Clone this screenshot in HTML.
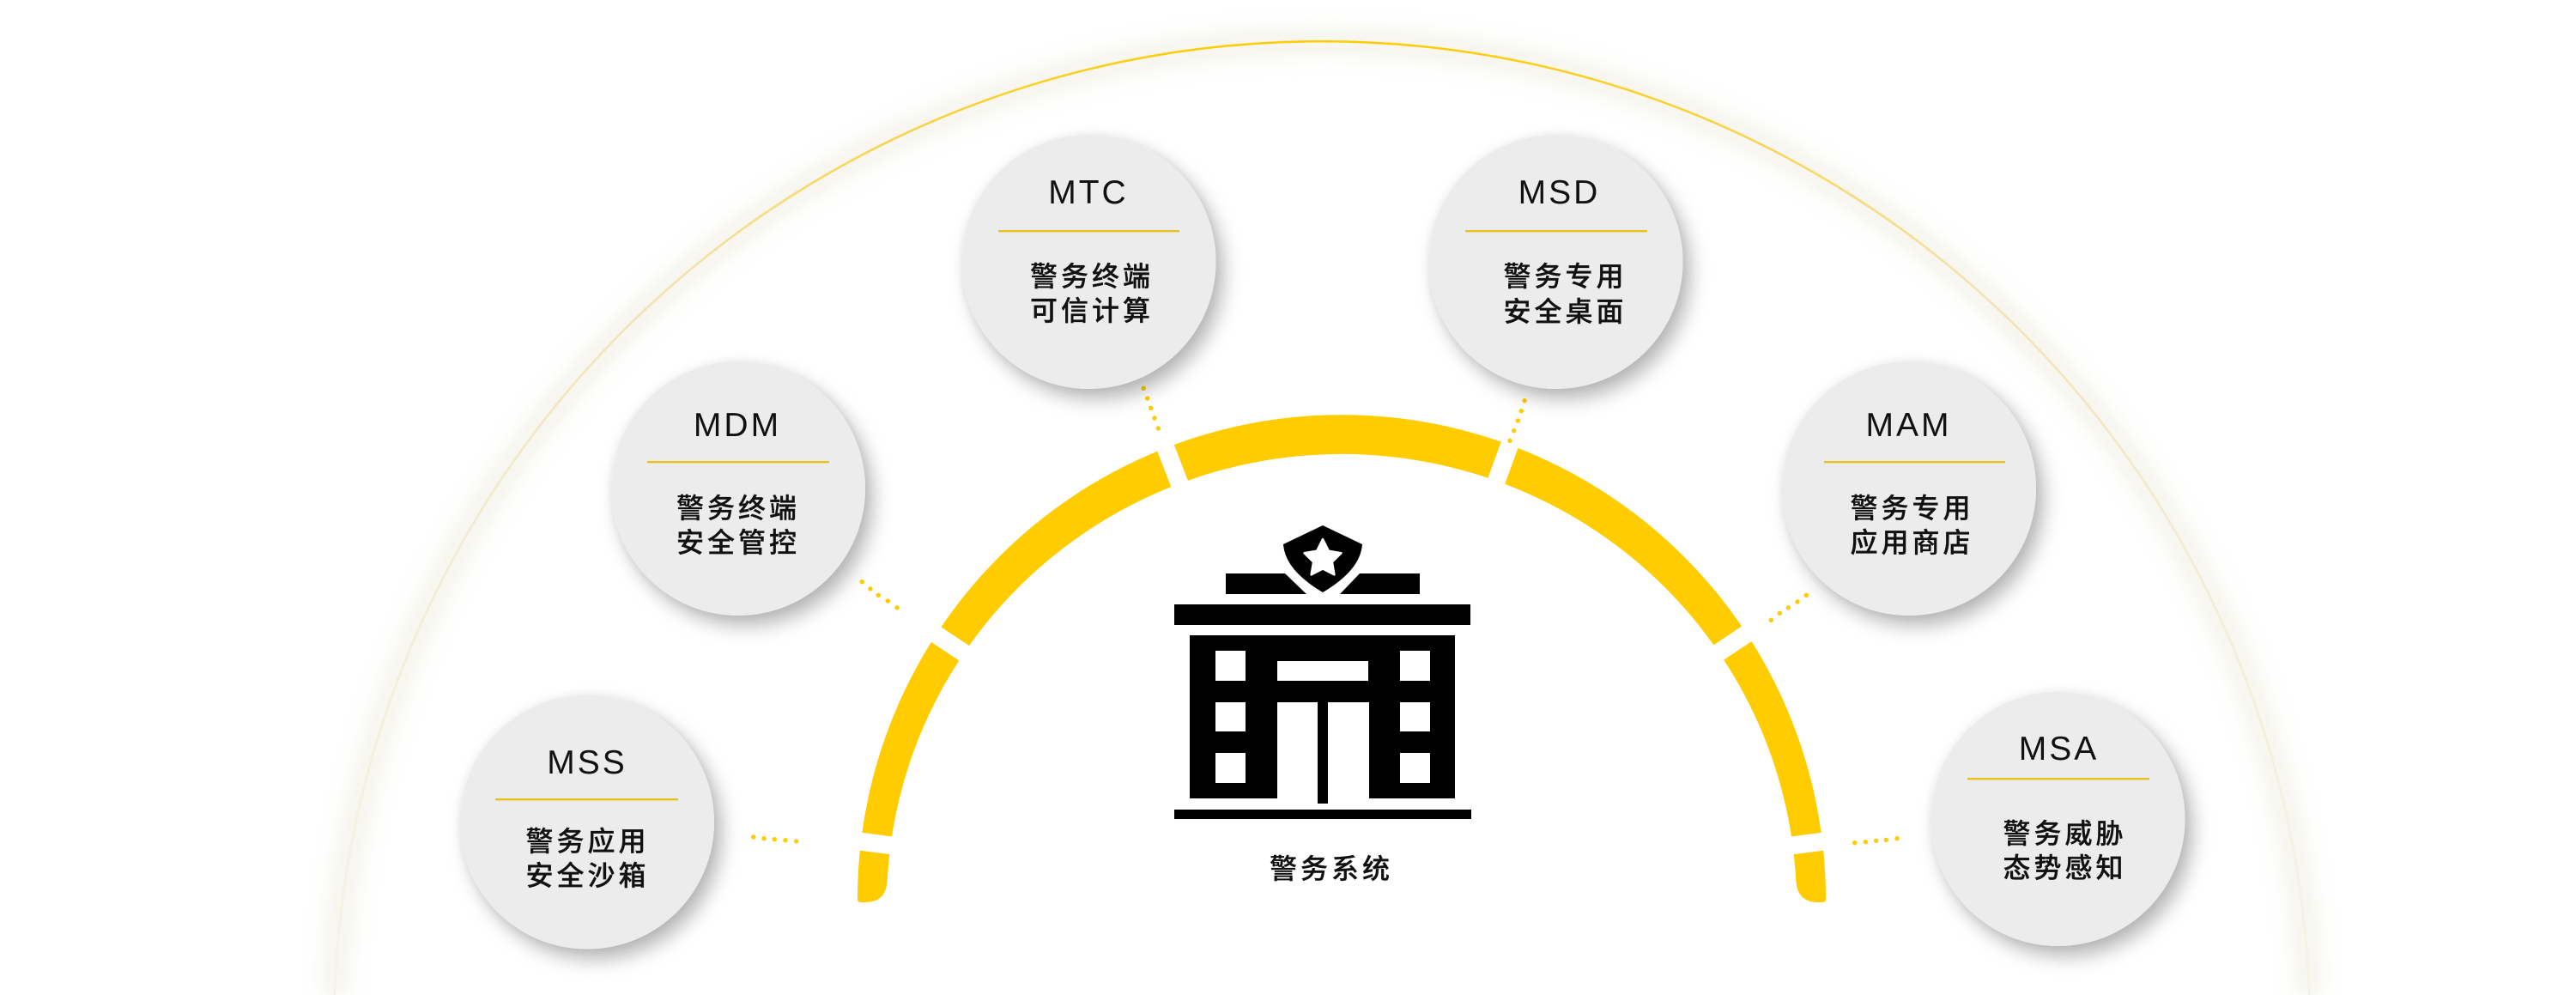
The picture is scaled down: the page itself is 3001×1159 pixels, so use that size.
<!DOCTYPE html>
<html>
<head>
<meta charset="utf-8">
<style>
  html,body{margin:0;padding:0;background:#fff;width:3001px;height:1159px;overflow:hidden;}
  svg{display:block;}
  .lb{font-family:"Liberation Sans",sans-serif;font-size:39px;letter-spacing:3px;fill:#111;text-anchor:middle;}
  .cn{font-family:"Liberation Sans","Noto Sans CJK SC",sans-serif;font-size:32px;letter-spacing:4px;fill:#111;stroke:#111;stroke-width:0.3;text-anchor:middle;font-weight:500;}
</style>
</head>
<body>
<svg width="3001" height="1159" viewBox="0 0 3001 1159" xmlns="http://www.w3.org/2000/svg">
  <defs>
    <filter id="glow" x="-20%" y="-20%" width="140%" height="140%">
      <feGaussianBlur stdDeviation="10"/>
    </filter>
    <filter id="sh" x="-30%" y="-30%" width="160%" height="160%">
      <feDropShadow dx="0" dy="0" stdDeviation="6" flood-color="#000" flood-opacity="0.06"/>
      <feDropShadow dx="9" dy="12" stdDeviation="11" flood-color="#000" flood-opacity="0.28"/>
    </filter>
    <linearGradient id="bg" gradientUnits="userSpaceOnUse" x1="0" y1="49" x2="0" y2="1159">
      <stop offset="0" stop-color="#FFCC00"/>
      <stop offset="0.08" stop-color="#FAD23C"/>
      <stop offset="0.25" stop-color="#F1E3AE"/>
      <stop offset="0.6" stop-color="#F2EDDC"/>
      <stop offset="1" stop-color="#F5F2E8"/>
    </linearGradient>
    <clipPath id="frame"><rect x="0" y="0" width="3001" height="1159"/></clipPath>
  </defs>

  <!-- big faint arc -->
  <g clip-path="url(#frame)">
    <path d="M 389.7,1159 A 1151 1151 0 0 1 2690.3,1159" fill="none" stroke="#E6E1CF" stroke-opacity="0.35" stroke-width="36" filter="url(#glow)"/>
    <path d="M 389.7,1159 A 1151 1151 0 0 1 2690.3,1159" fill="none" stroke="url(#bg)" stroke-width="2.5"/>
  </g>

  <!-- yellow segmented arc -->
  <path d="M 999,1047 A 564 564 0 0 1 2127,1047 Q 2127,1051 2123,1051 L 2118,1051 Q 2094,1051 2092.3,1026 A 530 524 0 0 0 1033.7,1026 Q 1032,1051 1008,1051 L 1003,1051 Q 999,1051 999,1047 Z" fill="#FFCC00"/>
  <g transform="translate(1563 1053)" stroke="#fff" stroke-width="21">
    <line x1="-585" y1="0" x2="-495" y2="0" transform="rotate(7.4)"/>
    <line x1="-585" y1="0" x2="-495" y2="0" transform="rotate(33.6)"/>
    <line x1="-585" y1="0" x2="-495" y2="0" transform="rotate(68.9)"/>
    <line x1="-585" y1="0" x2="-495" y2="0" transform="rotate(110.1)"/>
    <line x1="-585" y1="0" x2="-495" y2="0" transform="rotate(146.3)"/>
    <line x1="-585" y1="0" x2="-495" y2="0" transform="rotate(172.6)"/>
  </g>

  <!-- dots -->
  <g fill="#FFCC00">
    <circle cx="1332.3" cy="452.3" r="2.7"/><circle cx="1336.7" cy="464" r="2.7"/><circle cx="1340.7" cy="475.3" r="2.7"/><circle cx="1345" cy="487" r="2.7"/><circle cx="1349.3" cy="499" r="2.7"/>
    <circle cx="1776" cy="466.7" r="2.7"/><circle cx="1772.3" cy="478.7" r="2.7"/><circle cx="1768.3" cy="490" r="2.7"/><circle cx="1763.7" cy="501.7" r="2.7"/><circle cx="1759" cy="513.3" r="2.7"/>
    <circle cx="1004.3" cy="677.7" r="2.7"/><circle cx="1014" cy="686" r="2.7"/><circle cx="1023.3" cy="693.3" r="2.7"/><circle cx="1034.3" cy="700" r="2.7"/><circle cx="1045" cy="707.7" r="2.7"/>
    <circle cx="2104.3" cy="693.3" r="2.7"/><circle cx="2094" cy="701" r="2.7"/><circle cx="2083.3" cy="707.7" r="2.7"/><circle cx="2073.3" cy="714.3" r="2.7"/><circle cx="2063.3" cy="722.3" r="2.7"/>
    <circle cx="877.7" cy="975" r="2.7"/><circle cx="890" cy="976.7" r="2.7"/><circle cx="902.3" cy="977.7" r="2.7"/><circle cx="915" cy="978.7" r="2.7"/><circle cx="927.7" cy="980" r="2.7"/>
    <circle cx="2160.7" cy="981.7" r="2.7"/><circle cx="2173.3" cy="980.7" r="2.7"/><circle cx="2185.7" cy="979.3" r="2.7"/><circle cx="2197.3" cy="978.3" r="2.7"/><circle cx="2210" cy="976.7" r="2.7"/>
  </g>

  <!-- node circles -->
  <g fill="#ECECEC" filter="url(#sh)">
    <circle cx="684" cy="957.5" r="148"/>
    <circle cx="860" cy="569" r="148"/>
    <circle cx="1268.5" cy="305" r="148"/>
    <circle cx="1812.5" cy="305" r="148"/>
    <circle cx="2224" cy="569" r="148"/>
    <circle cx="2397.5" cy="954" r="148"/>
  </g>

  <!-- separator lines -->
  <g fill="#E6C21E">
    <rect x="1163" y="268" width="211" height="2.4"/>
    <rect x="1707" y="268" width="212" height="2.4"/>
    <rect x="754" y="537" width="212" height="2.4"/>
    <rect x="2125" y="537" width="211" height="2.4"/>
    <rect x="577" y="930" width="213" height="2.4"/>
    <rect x="2292" y="906" width="212" height="2.4"/>
  </g>

  <!-- labels -->
  <text class="lb" x="1268" y="237">MTC</text>
  <text class="cn" x="1272" y="333">警务终端</text>
  <text class="cn" x="1272" y="373">可信计算</text>

  <text class="lb" x="1816.5" y="237">MSD</text>
  <text class="cn" x="1823.5" y="333">警务专用</text>
  <text class="cn" x="1823.5" y="374">安全桌面</text>

  <text class="lb" x="859" y="508">MDM</text>
  <text class="cn" x="860" y="603">警务终端</text>
  <text class="cn" x="860" y="643">安全管控</text>

  <text class="lb" x="2223.5" y="508">MAM</text>
  <text class="cn" x="2227.5" y="603">警务专用</text>
  <text class="cn" x="2227.5" y="643">应用商店</text>

  <text class="lb" x="684" y="901">MSS</text>
  <text class="cn" x="684.5" y="991">警务应用</text>
  <text class="cn" x="684.5" y="1031">安全沙箱</text>

  <text class="lb" x="2398.5" y="885">MSA</text>
  <text class="cn" x="2405.5" y="982">警务威胁</text>
  <text class="cn" x="2405.5" y="1022">态势感知</text>

  <!-- building icon -->
  <g fill="#000">
    <path d="M 1541,612 Q 1520,622 1495,634 Q 1497,664 1541,690 Q 1585,664 1587,634 Q 1562,622 1541,612 Z"/>
    <polygon points="1428,668 1497,668 1522,692 1428,692"/>
    <polygon points="1584,668 1654,668 1654,692 1561,692"/>
    <rect x="1368" y="704" width="345" height="24"/>
    <rect x="1386" y="740" width="309" height="190"/>
    <rect x="1368" y="943" width="346" height="11"/>
  </g>
  <g fill="#fff">
    <polygon points="1541,628 1547.8,641.7 1562.5,644.2 1551.9,654.6 1554.4,669.4 1541,662.5 1527.6,669.4 1530.1,654.6 1519.5,644.2 1534.2,641.7" stroke="#fff" stroke-width="2.5" stroke-linejoin="round"/>
    <rect x="1416" y="758" width="35" height="35"/>
    <rect x="1416" y="818" width="35" height="34"/>
    <rect x="1416" y="877" width="35" height="35"/>
    <rect x="1631" y="758" width="35" height="35"/>
    <rect x="1631" y="818" width="35" height="34"/>
    <rect x="1631" y="877" width="35" height="35"/>
    <rect x="1488" y="770" width="106" height="23"/>
    <rect x="1488" y="818" width="107" height="112"/>
  </g>
  <rect x="1535" y="818" width="12" height="118" fill="#000"/>

  <text class="cn" x="1551" y="1023">警务系统</text>
</svg>
</body>
</html>
